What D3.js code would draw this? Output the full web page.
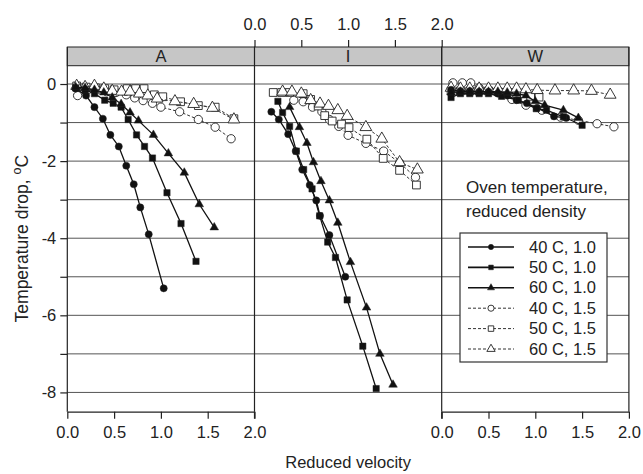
<!DOCTYPE html>
<html><head><meta charset="utf-8">
<script src="https://cdn.jsdelivr.net/npm/d3@7/dist/d3.min.js"></script>
<style>body{margin:0;background:#fff}svg{display:block}text{font-family:"Liberation Sans",Arial,sans-serif;fill:#222}</style>
</head><body><svg id="c" width="643" height="474"></svg>
<script>
// ---- data ----
const panels = ["A", "I", "W"];
const xTicks = [0, 0.5, 1.0, 1.5, 2.0];
const yTicks = [0, -1, -2, -3, -4, -5, -6, -7, -8];
const yLabels = [0, -2, -4, -6, -8];
const seriesNames = ["40 C, 1.0", "50 C, 1.0", "60 C, 1.0", "40 C, 1.5", "50 C, 1.5", "60 C, 1.5"];

// Panel A  [reduced velocity, temperature drop]
const a40_10 = [[0.09,-0.12],[0.2,-0.3],[0.29,-0.6],[0.38,-0.9],[0.46,-1.32],[0.55,-1.62],[0.63,-2.12],[0.71,-2.6],[0.78,-3.2],[0.87,-3.9],[1.03,-5.3]];
const a50_10 = [[0.09,-0.1],[0.19,-0.15],[0.29,-0.25],[0.4,-0.42],[0.49,-0.5],[0.575,-0.6],[0.65,-0.92],[0.74,-1.32],[0.825,-1.62],[0.91,-1.92],[1.065,-2.82],[1.215,-3.62],[1.375,-4.6]];
const a60_10 = [[0.09,-0.08],[0.19,-0.1],[0.29,-0.15],[0.39,-0.22],[0.48,-0.35],[0.575,-0.52],[0.67,-0.74],[0.76,-0.95],[0.92,-1.32],[1.08,-1.8],[1.25,-2.3],[1.41,-3.12],[1.57,-3.72]];
const a40_15 = [[0.11,-0.3],[0.22,-0.15],[0.32,-0.15],[0.42,-0.2],[0.52,-0.22],[0.63,-0.28],[0.72,-0.36],[0.81,-0.43],[0.91,-0.5],[1.0,-0.6],[1.2,-0.72],[1.4,-0.92],[1.58,-1.12],[1.75,-1.42]];
const a50_15 = [[0.1,-0.05],[0.2,-0.08],[0.3,-0.1],[0.4,-0.12],[0.5,-0.15],[0.64,-0.12],[0.73,-0.12],[0.82,-0.12],[0.93,-0.28],[1.02,-0.33],[1.21,-0.46],[1.4,-0.56],[1.58,-0.6],[1.78,-0.9]];
const a60_15 = [[0.1,-0.05],[0.19,-0.08],[0.29,-0.05],[0.39,-0.12],[0.48,-0.18],[0.58,-0.2],[0.67,-0.2],[0.77,-0.25],[0.86,-0.3],[0.96,-0.38],[1.15,-0.45],[1.35,-0.52],[1.55,-0.62],[1.78,-0.92]];

// Panel I
const i40_10 = [[0.18,-0.72],[0.26,-0.92],[0.36,-1.3],[0.44,-1.74],[0.51,-2.22],[0.59,-2.62],[0.66,-3.02],[0.7,-3.42],[0.8,-3.92],[0.97,-5.0]];
const i50_10 = [[0.25,-0.45],[0.3,-0.74],[0.375,-1.1],[0.447,-1.74],[0.525,-2.22],[0.615,-2.72],[0.696,-3.42],[0.782,-4.1],[0.865,-4.5],[0.99,-5.6],[1.157,-6.8],[1.3,-7.9]];
const i60_10 = [[0.375,-0.6],[0.48,-1.12],[0.56,-1.53],[0.63,-2.03],[0.71,-2.52],[0.8,-3.02],[0.89,-3.6],[1.025,-4.62],[1.197,-5.8],[1.34,-7.0],[1.48,-7.8]];
const i40_15 = [[0.42,-0.42],[0.52,-0.46],[0.62,-0.6],[0.72,-0.72],[0.8,-0.92],[0.9,-1.1],[1.0,-1.33],[1.19,-1.54],[1.38,-1.74],[1.55,-2.04],[1.72,-2.42]];
const i50_15 = [[0.2,-0.22],[0.29,-0.22],[0.375,-0.22],[0.52,-0.25],[0.6,-0.4],[0.68,-0.57],[0.75,-0.82],[0.83,-0.96],[0.93,-1.04],[1.01,-1.13],[1.2,-1.43],[1.375,-1.93],[1.55,-2.24],[1.73,-2.62]];
const i60_15 = [[0.3,-0.2],[0.4,-0.2],[0.5,-0.25],[0.6,-0.42],[0.7,-0.51],[0.79,-0.57],[0.89,-0.68],[0.99,-0.83],[1.19,-1.12],[1.36,-1.42],[1.55,-2.03],[1.74,-2.22]];

// Panel W
const w40_10 = [[0.1,-0.15],[0.2,-0.18],[0.3,-0.18],[0.4,-0.2],[0.5,-0.2],[0.6,-0.25],[0.7,-0.3],[0.8,-0.42],[0.91,-0.5],[1.02,-0.62],[1.2,-0.84],[1.33,-0.88]];
const w50_10 = [[0.1,-0.35],[0.2,-0.25],[0.3,-0.25],[0.4,-0.25],[0.5,-0.25],[0.64,-0.32],[0.82,-0.42],[1.01,-0.64],[1.12,-0.68],[1.3,-0.85],[1.5,-1.07]];
const w60_10 = [[0.1,-0.22],[0.2,-0.2],[0.3,-0.2],[0.4,-0.2],[0.5,-0.2],[0.6,-0.2],[0.7,-0.22],[0.8,-0.25],[0.9,-0.3],[1.0,-0.45],[1.1,-0.55],[1.3,-0.68],[1.46,-0.88]];
const w40_15 = [[0.12,0.03],[0.22,0.03],[0.31,0.03],[0.4,-0.1],[0.5,-0.15],[0.6,-0.2],[0.75,-0.4],[0.9,-0.55],[1.07,-0.68],[1.27,-0.86],[1.46,-0.94],[1.66,-1.03],[1.84,-1.11]];
const w50_15 = [[0.1,-0.18],[0.2,-0.18],[0.3,-0.18],[0.4,-0.18],[0.5,-0.18],[0.6,-0.2],[0.7,-0.22],[0.8,-0.25],[0.95,-0.32],[1.04,-0.34]];
const w60_15 = [[0.1,-0.1],[0.2,-0.12],[0.3,-0.12],[0.4,-0.12],[0.5,-0.12],[0.6,-0.12],[0.7,-0.12],[0.8,-0.12],[0.9,-0.14],[1.02,-0.16],[1.21,-0.17],[1.41,-0.17],[1.6,-0.18],[1.8,-0.28]];

const panelData = {
  A: [a40_10, a50_10, a60_10, a40_15, a50_15, a60_15],
  I: [i40_10, i50_10, i60_10, i40_15, i50_15, i60_15],
  W: [w40_10, w50_10, w60_10, w40_15, w50_15, w60_15]
};

// ---- layout ----
const FONT = '"Liberation Sans",Arial,sans-serif';
const svg = d3.select("#c");
const plotL = 67.3, panelW = 187.2, plotTop = 65.7, plotBot = 411.7, stripTop = 47;
const y = d3.scaleLinear().domain([-8.5, 0.475]).range([plotBot, plotTop]);
const xs = panels.map((p, k) => d3.scaleLinear().domain([0, 2]).range([plotL + k * panelW, plotL + (k + 1) * panelW]));
const xAll = [plotL, plotL + 3 * panelW];

const shapes = [d3.symbolCircle, d3.symbolSquare, d3.symbolTriangle];
const fillSizes = [40, 40, 32];
const openSizes = [54, 60, 60];

// gridlines
svg.append("g").selectAll("line").data(yTicks).join("line")
  .attr("x1", xAll[0]).attr("x2", xAll[1])
  .attr("y1", d => y(d)).attr("y2", d => y(d))
  .attr("stroke", "#555").attr("stroke-width", 1);

// strips
panels.forEach((p, k) => {
  const x0 = xs[k].range()[0], x1 = xs[k].range()[1];
  svg.append("rect").attr("x", x0).attr("y", stripTop).attr("width", x1 - x0).attr("height", plotTop - stripTop)
    .attr("fill", "#c6c6c6").attr("stroke", "#222").attr("stroke-width", 1);
  svg.append("text").attr("x", (x0 + x1) / 2).attr("y", (stripTop + plotTop) / 2 + 6)
    .attr("text-anchor", "middle").attr("font-size", 16.5).text(p);
});

// panel borders (vertical)
[0, 1, 2, 3].forEach(k => {
  const x = plotL + k * panelW;
  svg.append("line").attr("x1", x).attr("x2", x).attr("y1", stripTop).attr("y2", plotBot)
    .attr("stroke", "#222").attr("stroke-width", 1.2);
});

// axes
const fmt = d3.format(".1f");
function styleAxis(g) {
  g.attr("font-size", 16.5).attr("font-family", FONT);
  g.select(".domain").attr("stroke", "#222").attr("stroke-width", 1.2);
  g.selectAll(".tick line").attr("stroke", "#222").attr("stroke-width", 1.2);
  g.selectAll(".tick text").attr("fill", "#222");
}
// bottom axes for A and W
[0, 2].forEach(k => {
  const g = svg.append("g").attr("transform", `translate(0,${plotBot})`)
    .call(d3.axisBottom(xs[k]).tickValues(xTicks).tickFormat(fmt).tickSize(7).tickSizeOuter(0).tickPadding(8));
  styleAxis(g);
});
// top axis for I (ticks only, no domain line)
{
  const g = svg.append("g").attr("transform", `translate(0,${stripTop})`)
    .call(d3.axisTop(xs[1]).tickValues(xTicks).tickFormat(fmt).tickSize(7).tickSizeOuter(0).tickPadding(10));
  styleAxis(g);
  g.select(".domain").remove();
}
// bottom ticks at I edges (no line)
[0, 2].forEach(v => {
  svg.append("line").attr("x1", xs[1](v)).attr("x2", xs[1](v)).attr("y1", plotBot).attr("y2", plotBot + 7)
    .attr("stroke", "#222").attr("stroke-width", 1.2);
});
// left axis
{
  const g = svg.append("g").attr("transform", `translate(${plotL},0)`)
    .call(d3.axisLeft(y).tickValues(yTicks).tickFormat(d => yLabels.includes(d) ? String(d) : "")
      .tickSize(7).tickSizeOuter(0).tickPadding(4));
  styleAxis(g);
  g.select(".domain").remove();
}

// series
const line = (xsc) => d3.line().x(d => xsc(d[0])).y(d => y(d[1]));
panels.forEach((p, k) => {
  const xsc = xs[k];
  const order = [3, 4, 5, 0, 1, 2];
  order.forEach(si => {
    const data = panelData[p][si];
    const open = si >= 3;
    const g = svg.append("g");
    g.append("path").datum(data).attr("d", line(xsc)).attr("fill", "none")
      .attr("stroke", open ? "#333" : "#111").attr("stroke-width", open ? 1 : 1.3)
      .attr("stroke-dasharray", open ? "3,2" : null);
    const sh = shapes[si % 3];
    const size = open ? openSizes[si % 3] : fillSizes[si % 3];
    g.selectAll("path.m").data(data).join("path").attr("class", "m")
      .attr("transform", d => `translate(${xsc(d[0])},${y(d[1])})`)
      .attr("d", d3.symbol().type(sh).size(size))
      .attr("fill", open ? "#fff" : "#111").attr("stroke", "#222").attr("stroke-width", open ? 0.9 : 0.5);
  });
});

// axis titles
svg.append("text").attr("x", (xAll[0] + xAll[1]) / 2).attr("y", 468).attr("text-anchor", "middle")
  .attr("font-size", 16.5).text("Reduced velocity");
{
  const t = svg.append("text").attr("transform", `translate(28,${(plotTop + plotBot) / 2}) rotate(-90)`)
    .attr("text-anchor", "middle").attr("font-size", 17.5);
  t.append("tspan").text("Temperature drop, ");
  t.append("tspan").attr("baseline-shift", "super").attr("font-size", 12.5).text("o");
  t.append("tspan").text("C");
}

// legend
{
  const lx = 460, ly = 233, lw = 147, lh = 129;
  svg.append("text").attr("x", 466).attr("y", 193).attr("font-size", 17).text("Oven temperature,");
  svg.append("text").attr("x", 466).attr("y", 217).attr("font-size", 17).text("reduced density");
  svg.append("rect").attr("x", lx).attr("y", ly).attr("width", lw).attr("height", lh)
    .attr("fill", "#fff").attr("stroke", "#333").attr("stroke-width", 1.2);
  seriesNames.forEach((name, i) => {
    const yy = 247 + i * 20.4;
    const open = i >= 3;
    svg.append("line").attr("x1", 468).attr("x2", 514).attr("y1", yy).attr("y2", yy)
      .attr("stroke", open ? "#333" : "#111").attr("stroke-width", open ? 1 : 1.6)
      .attr("stroke-dasharray", open ? "3,2" : null);
    svg.append("path").attr("transform", `translate(491,${yy})`)
      .attr("d", d3.symbol().type(shapes[i % 3]).size(open ? 30 : 22))
      .attr("fill", open ? "#fff" : "#111").attr("stroke", "#222").attr("stroke-width", open ? 0.9 : 0.5);
    svg.append("text").attr("x", 529).attr("y", yy + 5.5).attr("font-size", 16.5).text(name);
  });
}
</script></body></html>
